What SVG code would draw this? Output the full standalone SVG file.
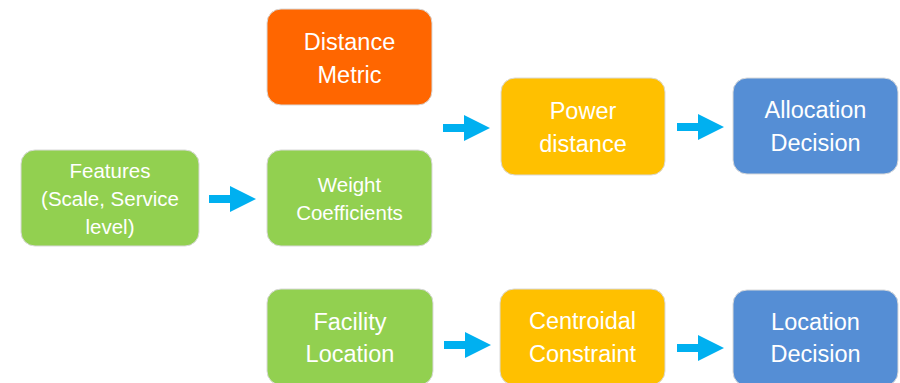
<svg xmlns="http://www.w3.org/2000/svg" width="900" height="383" viewBox="0 0 900 383">
  <style>
    .box { stroke: #d9d9d9; stroke-width: 1; }
    .green { fill: #92D050; }
    .orange { fill: #FF6600; }
    .gold { fill: #FFC000; }
    .blue { fill: #558ED5; }
    text { font-family: "Liberation Sans", Arial, sans-serif; fill: #ffffff; text-anchor: middle; }
    .lg { font-size: 23.5px; }
    .sm { font-size: 20.5px; }
    .arrow { fill: #00B0F0; }
  </style>
  <defs>
    <!-- block arrow: shaft then triangular head, pointing right, origin at tail centre -->
    <path id="blockArrow" d="M0,-4 H21 V-13 L47,0 L21,13 V4 H0 Z"/>
  </defs>
  <rect width="900" height="383" fill="#ffffff"/>

  <g id="features">
    <rect class="box green" x="21" y="150" width="178" height="96" rx="14"/>
    <text class="sm" x="110" y="178">Features</text>
    <text class="sm" x="110" y="206">(Scale, Service</text>
    <text class="sm" x="110" y="234">level)</text>
  </g>

  <g id="distance-metric">
    <rect class="box orange" x="267" y="9" width="165" height="96" rx="14"/>
    <text class="lg" x="349.5" y="50">Distance</text>
    <text class="lg" x="349.5" y="83">Metric</text>
  </g>

  <g id="weight-coefficients">
    <rect class="box green" x="267" y="150" width="165" height="96" rx="14"/>
    <text class="sm" x="349.5" y="192">Weight</text>
    <text class="sm" x="349.5" y="220">Coefficients</text>
  </g>

  <g id="power-distance">
    <rect class="box gold" x="501" y="78" width="164" height="97" rx="14"/>
    <text class="lg" x="583" y="119">Power</text>
    <text class="lg" x="583" y="152">distance</text>
  </g>

  <g id="allocation-decision">
    <rect class="box blue" x="733" y="78" width="165" height="96" rx="14"/>
    <text class="lg" x="815.5" y="118">Allocation</text>
    <text class="lg" x="815.5" y="151">Decision</text>
  </g>

  <g id="facility-location">
    <rect class="box green" x="267" y="289" width="166" height="96" rx="14"/>
    <text class="lg" x="350" y="330">Facility</text>
    <text class="lg" x="350" y="362">Location</text>
  </g>

  <g id="centroidal-constraint">
    <rect class="box gold" x="500" y="289" width="165" height="96" rx="14"/>
    <text class="lg" x="582.5" y="329">Centroidal</text>
    <text class="lg" x="582.5" y="362">Constraint</text>
  </g>

  <g id="location-decision">
    <rect class="box blue" x="733" y="290" width="165" height="96" rx="14"/>
    <text class="lg" x="815.5" y="330">Location</text>
    <text class="lg" x="815.5" y="362">Decision</text>
  </g>

  <g id="connectors" class="arrow">
    <use href="#blockArrow" x="209" y="199"/>
    <use href="#blockArrow" x="443" y="128"/>
    <use href="#blockArrow" x="677" y="127"/>
    <use href="#blockArrow" x="444" y="345"/>
    <use href="#blockArrow" x="677" y="348"/>
  </g>
</svg>
